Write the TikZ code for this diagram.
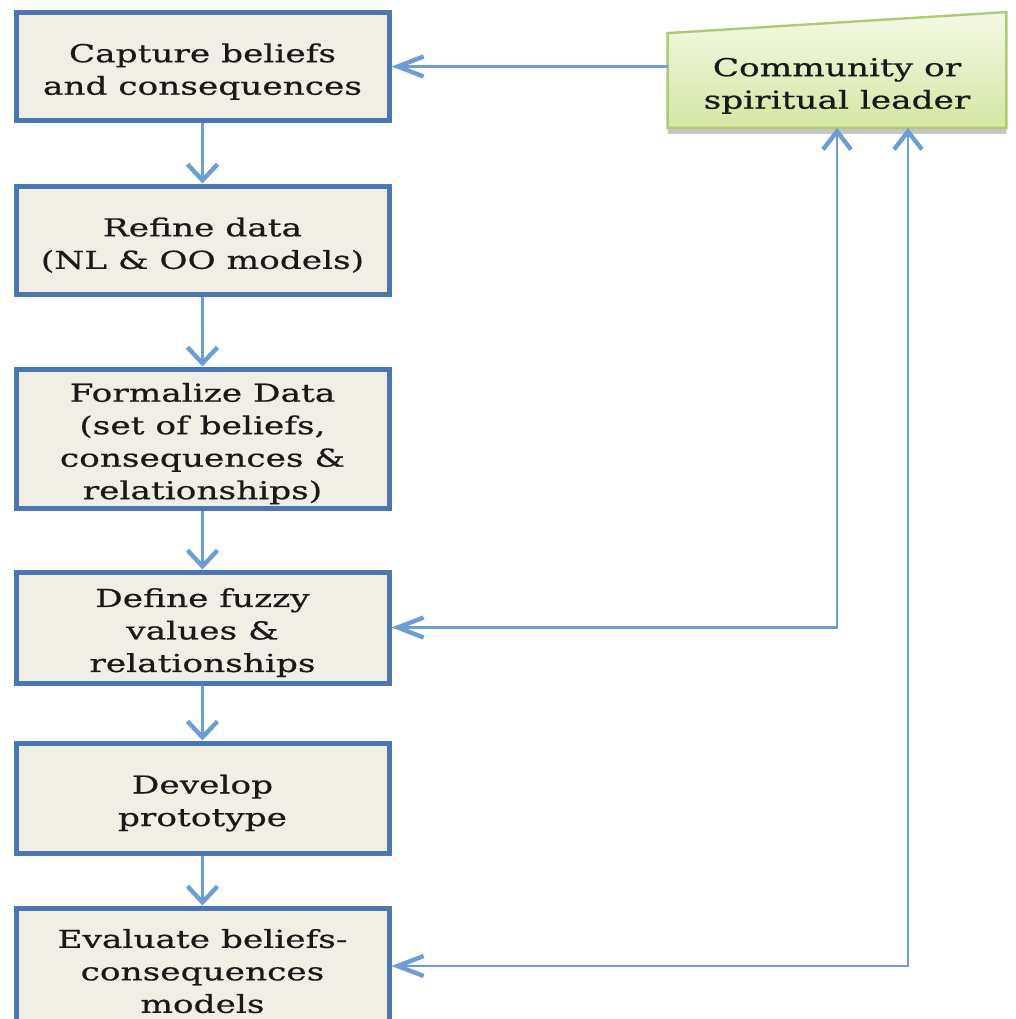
\documentclass[tikz,border=0pt]{standalone}
\usepackage{fontspec}
\setmainfont[FakeStretch=1.39, FakeBold=0.6]{DejaVu Serif}
\usetikzlibrary{arrows.meta,shadows,backgrounds}
\definecolor{boxline}{HTML}{4A78AE}
\definecolor{boxfill}{HTML}{F1EEE6}
\definecolor{arrowblue}{HTML}{6D9DD4}
\definecolor{leadline}{HTML}{AFCB72}
\definecolor{leadtop}{HTML}{F4F8E6}
\definecolor{leadbot}{HTML}{D4E7A2}
% extra room above the first line, pushes text down a bit
\newcommand\tstrut{\rule{0pt}{14.5pt}}
\begin{document}
\begin{tikzpicture}[x=0.5pt, y=-0.5pt,
    box/.style={draw=boxline, fill=boxfill, line width=2.5pt, minimum width=186.5pt,
      align=center, inner sep=0pt, text=black!90},
    leadbox/.style={draw=leadline, line width=1.2pt, top color=leadtop, bottom color=leadbot,
      drop shadow={shadow xshift=0pt, shadow yshift=-3pt, opacity=0.45}},
    down/.style={draw=arrowblue, line width=1.8pt,
      -{Straight Barb[length=8pt, width=15pt, line width=2.2pt]}},
    side/.style={draw=arrowblue, line width=1.2pt,
      -{Straight Barb[length=13pt, width=10pt, line width=2.2pt]}},
    both/.style={draw=arrowblue, line width=1.2pt,
      {Straight Barb[length=9pt, width=14pt, line width=2.2pt]}-{Straight Barb[length=13pt, width=10pt, line width=2.2pt]}},
    every node/.style={font=\fontsize{12.35}{16.25}\selectfont}]
  \useasboundingbox (0,0) rectangle (1016,1019);
  % Steps (left column)
  \node[box, minimum height=54pt]   (cap)    at (202.5,66.5) {\tstrut Capture beliefs\\and consequences};
  \node[box, minimum height=54pt]   (refine) at (202.5,240)  {\tstrut Refine data\\(NL \& OO models)};
  \node[box, minimum height=69.5pt] (formal) at (202.5,438.5) {\tstrut Formalize Data\\(set of beliefs,\\consequences \&\\relationships)};
  \node[box, minimum height=55.5pt] (fuzzy)  at (202.5,627.5) {\tstrut Define fuzzy\\values \&\\relationships};
  \node[box, minimum height=55pt]   (proto)  at (202.5,798)  {\tstrut Develop\\prototype};
  \node[box, minimum height=58pt]   (eval)   at (202.5,966)  {\tstrut Evaluate beliefs-\\consequences\\models};
  % Community or spiritual leader
  \node[minimum width=169pt, minimum height=47pt, align=center, inner sep=0pt,
    text=black!90] (lead) at (837,80.5) {\tstrut Community or\\spiritual leader};
  \begin{scope}[on background layer]
    \path[leadbox] (lead.south west) -- (lead.north west)
      -- ([yshift=10.5pt]lead.north east) -- (lead.south east) -- cycle;
  \end{scope}
  % Arrows
  \foreach \a/\b in {cap/refine, refine/formal, formal/fuzzy, fuzzy/proto, proto/eval}
    \draw[down] (\a) -- (\b);
  \draw[side] (lead.west |- cap.east) -- (cap.east);
  \draw[both] (lead.south) |- (fuzzy.east);
  \draw[both] ([xshift=35.5pt]lead.south) |- (eval.east);
\end{tikzpicture}
\end{document}
